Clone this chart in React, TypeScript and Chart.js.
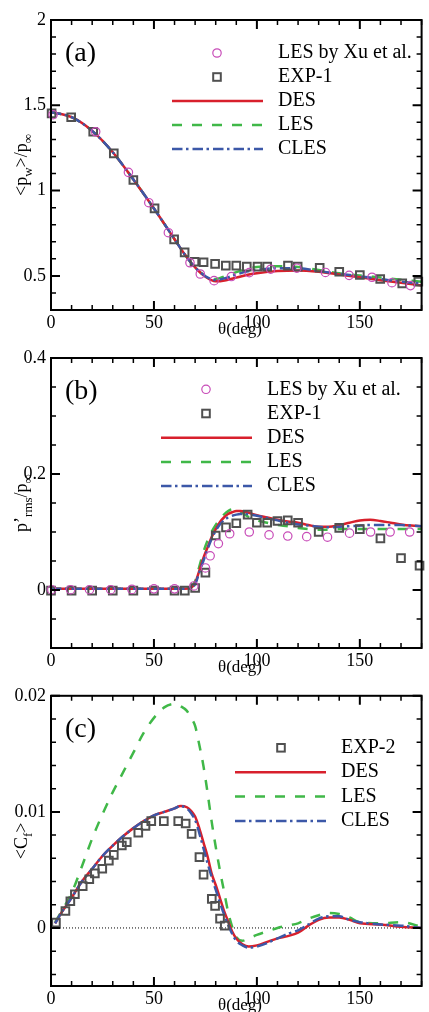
import { useEffect, useRef } from "react";
import { Chart, registerables } from "chart.js";

Chart.register(...registerables);

const FONT = '"Liberation Serif", "Times New Roman", serif';

// ---------- shared axis ticks ----------
const xTicks = [0, 50, 100, 150];
const xTickLabels = ["0", "50", "100", "150"];

// ---------- (a) mean wall pressure ----------
const yTicksA = [0.5, 1, 1.5, 2];
const yTickLabelsA = ["0.5", "1", "1.5", "2"];

const thetaA = [0, 10, 20, 30, 40, 50, 60, 65, 70, 75, 80, 85, 90, 95, 100, 110, 120, 130, 140, 150, 160, 170, 180];
const pwDES = [1.46, 1.43, 1.35, 1.225, 1.065, 0.895, 0.715, 0.625, 0.55, 0.495, 0.468, 0.475, 0.49, 0.505, 0.515, 0.528, 0.532, 0.524, 0.508, 0.492, 0.475, 0.46, 0.443];
const pwLES = [1.46, 1.43, 1.35, 1.225, 1.065, 0.895, 0.715, 0.625, 0.55, 0.5, 0.482, 0.5, 0.522, 0.54, 0.552, 0.556, 0.552, 0.535, 0.515, 0.503, 0.49, 0.477, 0.466];
const pwCLES = [1.46, 1.43, 1.35, 1.225, 1.065, 0.895, 0.715, 0.625, 0.55, 0.498, 0.476, 0.488, 0.508, 0.525, 0.535, 0.545, 0.545, 0.528, 0.512, 0.498, 0.482, 0.466, 0.455];

const xuThetaA = [1, 21.7, 37.6, 47.5, 57, 67.5, 72.5, 79.2, 87.6, 96.3, 106.7, 119.4, 133.3, 144.8, 155.9, 165.6, 174.6];
const xuPw = [1.445, 1.345, 1.107, 0.929, 0.753, 0.577, 0.511, 0.472, 0.496, 0.519, 0.539, 0.545, 0.52, 0.503, 0.492, 0.46, 0.443];

const exp1ThetaA = [0.3, 9.8, 20.5, 30.5, 40, 50.3, 59.8, 64.9, 69.7, 74.1, 79.7, 84.9, 90, 95.1, 100.3, 105, 115.1, 119.8, 130.5, 140, 150, 159.9, 170.6, 178.4];
const exp1Pw = [1.453, 1.43, 1.345, 1.218, 1.062, 0.896, 0.714, 0.638, 0.583, 0.58, 0.57, 0.56, 0.56, 0.554, 0.554, 0.554, 0.56, 0.554, 0.548, 0.524, 0.505, 0.482, 0.456, 0.466];

// ---------- (b) rms wall pressure ----------
const yTicksB = [0, 0.2, 0.4];
const yTickLabelsB = ["0", "0.2", "0.4"];

const thetaB = [0, 10, 20, 30, 40, 50, 60, 65, 68, 70, 72, 74, 76, 78, 80, 82, 84, 86, 88, 90, 92, 95, 100, 105, 110, 115, 120, 125, 130, 135, 140, 145, 150, 155, 160, 165, 170, 175, 180];
const prmsDES = [0.002, 0.002, 0.002, 0.002, 0.002, 0.002, 0.002, 0.002, 0.004, 0.012, 0.033, 0.055, 0.073, 0.091, 0.105, 0.117, 0.125, 0.131, 0.134, 0.136, 0.136, 0.134, 0.129, 0.125, 0.121, 0.118, 0.116, 0.112, 0.109, 0.109, 0.112, 0.116, 0.12, 0.121, 0.119, 0.116, 0.113, 0.111, 0.11];
const prmsLES = [0.002, 0.002, 0.002, 0.002, 0.002, 0.002, 0.002, 0.002, 0.005, 0.015, 0.04, 0.065, 0.085, 0.1, 0.112, 0.122, 0.13, 0.136, 0.139, 0.139, 0.135, 0.128, 0.12, 0.116, 0.112, 0.11, 0.107, 0.105, 0.104, 0.104, 0.105, 0.105, 0.105, 0.105, 0.105, 0.105, 0.105, 0.105, 0.105];
const prmsCLES = [0.002, 0.002, 0.002, 0.002, 0.002, 0.002, 0.002, 0.002, 0.004, 0.01, 0.03, 0.05, 0.07, 0.088, 0.102, 0.113, 0.12, 0.125, 0.128, 0.13, 0.131, 0.131, 0.128, 0.124, 0.12, 0.116, 0.113, 0.111, 0.109, 0.108, 0.109, 0.11, 0.111, 0.112, 0.112, 0.112, 0.112, 0.111, 0.11];

const xuThetaB = [0.3, 9.5, 18.7, 29, 39.3, 50, 60, 69.4, 75, 77.3, 81.3, 86.8, 96.3, 105.9, 115, 124.2, 134.3, 145, 155.2, 164.7, 174.2];
const xuPrms = [0.0005, 0.0005, 0.0005, 0.0005, 0.001, 0.002, 0.002, 0.007, 0.038, 0.059, 0.08, 0.097, 0.1, 0.095, 0.093, 0.092, 0.091, 0.098, 0.1, 0.1, 0.1];

const exp1ThetaB = [0, 10, 20, 30, 40, 50, 60, 65, 70, 75, 80, 85, 90, 95.5, 100, 105, 110, 115, 120, 130, 140, 150, 160, 170, 179];
const exp1Prms = [-0.001, -0.001, -0.001, -0.001, -0.001, -0.001, -0.001, -0.001, 0.0035, 0.03, 0.094, 0.108, 0.115, 0.13, 0.116, 0.116, 0.119, 0.12, 0.116, 0.1, 0.107, 0.105, 0.089, 0.055, 0.042];

// ---------- (c) mean skin friction ----------
const yTicksC = [0, 0.01, 0.02];
const yTickLabelsC = ["0", "0.01", "0.02"];

const thetaC = [2, 5, 10, 15, 20, 25, 30, 35, 40, 45, 50, 55, 60, 63, 66, 68, 70, 72, 74, 76, 78, 80, 82, 84, 86, 88, 90, 93, 96, 100, 105, 110, 115, 120, 125, 130, 135, 140, 145, 150, 160, 170, 180];
const cfDES = [0.0004, 0.0013, 0.0026, 0.004, 0.0051, 0.0062, 0.0071, 0.0079, 0.0086, 0.0092, 0.0097, 0.01, 0.0103, 0.0105, 0.0104, 0.0101, 0.0096, 0.0086, 0.0074, 0.0062, 0.0047, 0.0037, 0.0026, 0.0015, 0.0006, -0.0003, -0.0009, -0.0014, -0.0016, -0.0015, -0.0012, -0.0009, -0.0007, -0.0004, 0.0002, 0.0007, 0.0009, 0.0009, 0.0007, 0.0004, 0.0003, 0.0001, 0];
const cfLES = [0.0005, 0.0014, 0.003, 0.0053, 0.0077, 0.0098, 0.0117, 0.0134, 0.0151, 0.0168, 0.0181, 0.019, 0.0193, 0.0191, 0.0187, 0.0181, 0.0174, 0.0158, 0.014, 0.0117, 0.0092, 0.007, 0.005, 0.0032, 0.0014, 0.0001, -0.0008, -0.0011, -0.0009, -0.0006, -0.0003, 0, 0.0002, 0.0004, 0.0008, 0.0011, 0.0013, 0.0012, 0.0009, 0.0005, 0.0004, 0.0005, 0.0001];
const cfCLES = [0.0004, 0.0013, 0.0026, 0.004, 0.0051, 0.0062, 0.0071, 0.0079, 0.0086, 0.0092, 0.0097, 0.01, 0.0103, 0.0105, 0.0103, 0.0099, 0.0093, 0.0082, 0.0069, 0.0056, 0.0044, 0.0033, 0.0022, 0.0012, 0.0003, -0.0005, -0.0011, -0.0015, -0.0017, -0.0016, -0.0013, -0.0009, -0.0005, -0.0002, 0.0003, 0.0008, 0.001, 0.001, 0.0007, 0.0005, 0.0003, 0.0002, 0];

const exp2ThetaC = [2.4, 7, 9.4, 11.6, 15.4, 18.6, 21.3, 24.9, 28.1, 30.5, 34.4, 36.8, 42.4, 45.9, 48.7, 54.8, 61.8, 65.4, 68.3, 72.1, 74.1, 78.1, 79.7, 82.1, 84.4];
const exp2Cf = [0.00046, 0.00146, 0.0023, 0.0029, 0.0036, 0.0042, 0.0047, 0.0051, 0.0058, 0.0063, 0.0071, 0.0074, 0.0082, 0.0088, 0.0092, 0.0092, 0.0092, 0.009, 0.0081, 0.0061, 0.0046, 0.0025, 0.0019, 0.0008, 0.0002];

// ---------- styles ----------
const RED = "#d8202c";
const GREEN = "#40b848";
const BLUE = "#3c58a8";
const MAGENTA = "#c84cb8";
const GREY = "#505050";
const DASH_LES = [10, 10];
const DASH_CLES = [10.5, 3.5, 2.5, 4];

type Seg = { t: string; sub?: boolean };
type LegendItem = { kind: "circle" | "square" | "line"; text: string; color?: string; dash?: number[] };

interface Panel {
  top: number;
  height: number;
  padTop: number;
  xAxisH: number;
  yMin: number;
  yMax: number;
  yTicks: number[];
  yTickLabels: string[];
  yMinorFrom: number;
  yMinorStep: number;
  tag: string;
  yTitle: Seg[];
  legend: LegendItem[];
  legMarker: number;
  legLine: [number, number];
  legText: number;
  legRow0: number;
  legDy: number;
  zeroLine: boolean;
  datasets: any[];
}

const pts = (xs: number[], ys: number[]) => xs.map((x, i) => ({ x, y: ys[i] }));

const lineSet = (label: string, xs: number[], ys: number[], color: string, dash: number[]) => ({
  label,
  data: pts(xs, ys),
  borderColor: color,
  borderWidth: 2.5,
  borderDash: dash,
  pointRadius: 0,
  fill: false,
  cubicInterpolationMode: "monotone",
});

const circleSet = (label: string, xs: number[], ys: number[]) => ({
  label,
  data: pts(xs, ys),
  showLine: false,
  pointStyle: "circle",
  pointRadius: 4.2,
  pointBorderWidth: 1.2,
  pointBorderColor: MAGENTA,
  pointBackgroundColor: "rgba(0,0,0,0)",
  clip: false,
});

const squareSet = (label: string, xs: number[], ys: number[]) => ({
  label,
  data: pts(xs, ys),
  showLine: false,
  pointStyle: "rect",
  pointRadius: 5.4,
  pointBorderWidth: 2,
  pointBorderColor: GREY,
  pointBackgroundColor: "rgba(0,0,0,0)",
  clip: false,
});

const legendFull: LegendItem[] = [
  { kind: "circle", text: "LES by Xu et al." },
  { kind: "square", text: "EXP-1" },
  { kind: "line", text: "DES", color: RED, dash: [] },
  { kind: "line", text: "LES", color: GREEN, dash: DASH_LES },
  { kind: "line", text: "CLES", color: BLUE, dash: DASH_CLES },
];

const panels: Panel[] = [
  {
    top: 0, height: 340, padTop: 20, xAxisH: 30,
    yMin: 0.3, yMax: 2, yTicks: yTicksA, yTickLabels: yTickLabelsA, yMinorFrom: 0.4, yMinorStep: 0.1,
    tag: "(a)",
    yTitle: [{ t: "<p" }, { t: "w", sub: true }, { t: ">/p" }, { t: "\u221e", sub: true }],
    legend: legendFull, legMarker: 166, legLine: [121, 212], legText: 227, legRow0: 33, legDy: 24,
    zeroLine: false,
    datasets: [
      circleSet("LES by Xu et al.", xuThetaA, xuPw),
      squareSet("EXP-1", exp1ThetaA, exp1Pw),
      lineSet("CLES", thetaA, pwCLES, BLUE, DASH_CLES),
      lineSet("DES", thetaA, pwDES, RED, []),
      lineSet("LES", thetaA, pwLES, GREEN, DASH_LES),
    ],
  },
  {
    top: 340, height: 340, padTop: 18, xAxisH: 32,
    yMin: -0.1, yMax: 0.4, yTicks: yTicksB, yTickLabels: yTickLabelsB, yMinorFrom: -0.05, yMinorStep: 0.05,
    tag: "(b)",
    yTitle: [{ t: "p\u2019" }, { t: "rms", sub: true }, { t: "/p" }, { t: "\u221e", sub: true }],
    legend: legendFull, legMarker: 155, legLine: [110, 201], legText: 216, legRow0: 31.3, legDy: 24.2,
    zeroLine: false,
    datasets: [
      circleSet("LES by Xu et al.", xuThetaB, xuPrms),
      squareSet("EXP-1", exp1ThetaB, exp1Prms),
      lineSet("CLES", thetaB, prmsCLES, BLUE, DASH_CLES),
      lineSet("DES", thetaB, prmsDES, RED, []),
      lineSet("LES", thetaB, prmsLES, GREEN, DASH_LES),
    ],
  },
  {
    top: 680, height: 332, padTop: 14, xAxisH: 26,
    yMin: -0.005, yMax: 0.02, yTicks: yTicksC, yTickLabels: yTickLabelsC, yMinorFrom: -0.004, yMinorStep: 0.002,
    tag: "(c)",
    yTitle: [{ t: "<C" }, { t: "f", sub: true }, { t: ">" }],
    legend: [
      { kind: "square", text: "EXP-2" },
      { kind: "line", text: "DES", color: RED, dash: [] },
      { kind: "line", text: "LES", color: GREEN, dash: DASH_LES },
      { kind: "line", text: "CLES", color: BLUE, dash: DASH_CLES },
    ],
    legMarker: 230, legLine: [184, 275], legText: 290, legRow0: 52, legDy: 24.4,
    zeroLine: true,
    datasets: [
      squareSet("EXP-2", exp2ThetaC, exp2Cf),
      lineSet("CLES", thetaC, cfCLES, BLUE, DASH_CLES),
      lineSet("DES", thetaC, cfDES, RED, []),
      lineSet("LES", thetaC, cfLES, GREEN, DASH_LES),
    ],
  },
];

function drawRotatedTitle(ctx: CanvasRenderingContext2D, segs: Seg[], bx: number, cy: number, size: number) {
  const big = `${size}px ${FONT}`;
  const small = `${Math.round(size * 0.7)}px ${FONT}`;
  const widths = segs.map((s) => {
    ctx.font = s.sub ? small : big;
    return ctx.measureText(s.t).width;
  });
  const total = widths.reduce((a, b) => a + b, 0);
  ctx.save();
  ctx.translate(bx, cy);
  ctx.rotate(-Math.PI / 2);
  ctx.textAlign = "left";
  ctx.textBaseline = "alphabetic";
  ctx.fillStyle = "#000";
  let x = -total / 2;
  segs.forEach((s, i) => {
    ctx.font = s.sub ? small : big;
    ctx.fillText(s.t, x, s.sub ? size * 0.28 : 0);
    x += widths[i];
  });
  ctx.restore();
}

function decoPlugin(p: Panel) {
  return {
    id: "frameDeco",
    beforeDatasetsDraw(chart: any) {
      if (!p.zeroLine) return;
      const { ctx, chartArea: a, scales } = chart;
      const y0 = scales.y.getPixelForValue(0);
      ctx.save();
      ctx.strokeStyle = "#000";
      ctx.lineWidth = 1;
      ctx.setLineDash([1, 2]);
      ctx.beginPath();
      ctx.moveTo(a.left, y0);
      ctx.lineTo(a.right, y0);
      ctx.stroke();
      ctx.restore();
    },
    afterDatasetsDraw(chart: any) {
      const { ctx, chartArea: a, scales } = chart;
      const xs = scales.x;
      const ys = scales.y;
      ctx.save();
      ctx.strokeStyle = "#000";
      ctx.setLineDash([]);

      // inward tick marks on all four sides
      const nx = 18;
      for (let i = 0; i <= nx; i++) {
        const v = i * 10;
        const major = xTicks.includes(v);
        const px = xs.getPixelForValue(v);
        const len = major ? 9 : 5;
        ctx.lineWidth = major ? 2 : 1.5;
        ctx.beginPath();
        ctx.moveTo(px, a.bottom);
        ctx.lineTo(px, a.bottom - len);
        ctx.moveTo(px, a.top);
        ctx.lineTo(px, a.top + len);
        ctx.stroke();
      }
      const ny = Math.round((p.yMax - p.yMinorFrom) / p.yMinorStep);
      for (let i = 0; i <= ny; i++) {
        const v = p.yMinorFrom + i * p.yMinorStep;
        const major = p.yTicks.some((m) => Math.abs(m - v) < p.yMinorStep * 1e-3);
        const py = ys.getPixelForValue(v);
        const len = major ? 9 : 5;
        ctx.lineWidth = major ? 2 : 1.5;
        ctx.beginPath();
        ctx.moveTo(a.left, py);
        ctx.lineTo(a.left + len, py);
        ctx.moveTo(a.right, py);
        ctx.lineTo(a.right - len, py);
        ctx.stroke();
      }

      // frame
      ctx.lineWidth = 2;
      ctx.strokeRect(a.left, a.top, a.right - a.left, a.bottom - a.top);

      // panel tag
      ctx.fillStyle = "#000";
      ctx.font = `28px ${FONT}`;
      ctx.textAlign = "left";
      ctx.textBaseline = "middle";
      ctx.fillText(p.tag, a.left + 14, a.top + 34);

      // legend
      p.legend.forEach((it, i) => {
        const ry = a.top + p.legRow0 + i * p.legDy;
        const mx = a.left + p.legMarker;
        if (it.kind === "circle") {
          ctx.strokeStyle = MAGENTA;
          ctx.lineWidth = 1.2;
          ctx.setLineDash([]);
          ctx.beginPath();
          ctx.arc(mx, ry, 4.2, 0, Math.PI * 2);
          ctx.stroke();
        } else if (it.kind === "square") {
          ctx.strokeStyle = GREY;
          ctx.lineWidth = 2;
          ctx.setLineDash([]);
          ctx.strokeRect(mx - 3.8, ry - 3.8, 7.6, 7.6);
        } else {
          ctx.strokeStyle = it.color!;
          ctx.lineWidth = 2.5;
          ctx.setLineDash(it.dash || []);
          ctx.beginPath();
          ctx.moveTo(a.left + p.legLine[0], ry);
          ctx.lineTo(a.left + p.legLine[1], ry);
          ctx.stroke();
          ctx.setLineDash([]);
        }
        ctx.fillStyle = "#000";
        ctx.font = `20px ${FONT}`;
        ctx.textAlign = "left";
        ctx.textBaseline = "middle";
        ctx.fillText(it.text, a.left + p.legText, ry);
      });

      // axis titles
      ctx.font = `17px ${FONT}`;
      ctx.textAlign = "center";
      ctx.textBaseline = "middle";
      ctx.fillText("\u03b8(deg)", a.left + 189, a.bottom + 20);
      drawRotatedTitle(ctx, p.yTitle, 27, (a.top + a.bottom) / 2, 18);

      ctx.restore();
    },
  };
}

function buildChart(canvas: HTMLCanvasElement, p: Panel) {
  return new Chart(canvas, {
    type: "line",
    data: { datasets: p.datasets },
    options: {
      responsive: false,
      animation: false,
      devicePixelRatio: 1,
      events: [],
      layout: { padding: { top: p.padTop, right: 1, left: 0, bottom: 0 } },
      plugins: { legend: { display: false }, tooltip: { enabled: false } },
      scales: {
        x: {
          type: "linear",
          min: 0,
          max: 180,
          grid: { display: false, drawTicks: false },
          border: { display: false },
          ticks: {
            font: { family: FONT, size: 18 },
            color: "#000",
            padding: 2,
            maxRotation: 0,
            autoSkip: false,
            callback: (_v: any, i: number) => xTickLabels[i],
          },
          afterBuildTicks: (s: any) => {
            s.ticks = xTicks.map((v) => ({ value: v }));
          },
          afterFit: (s: any) => {
            s.height = p.xAxisH;
          },
        },
        y: {
          type: "linear",
          min: p.yMin,
          max: p.yMax,
          grid: { display: false, drawTicks: false },
          border: { display: false },
          ticks: {
            font: { family: FONT, size: 18 },
            color: "#000",
            padding: 5,
            autoSkip: false,
            callback: (_v: any, i: number) => p.yTickLabels[i],
          },
          afterBuildTicks: (s: any) => {
            s.ticks = p.yTicks.map((v) => ({ value: v }));
          },
          afterFit: (s: any) => {
            s.width = 51;
          },
        },
      },
    } as any,
    plugins: [decoPlugin(p)],
  });
}

export default function App() {
  const refs = [useRef<HTMLCanvasElement>(null), useRef<HTMLCanvasElement>(null), useRef<HTMLCanvasElement>(null)];

  useEffect(() => {
    const charts = panels.map((p, i) => buildChart(refs[i].current!, p));
    return () => charts.forEach((c) => c.destroy());
  }, []);

  return (
    <div style={{ position: "absolute", left: 0, top: 0, width: 429, height: 1012, background: "#fff", overflow: "hidden" }}>
      {panels.map((p, i) => (
        <canvas
          key={p.tag}
          ref={refs[i]}
          width={429}
          height={p.height}
          style={{ position: "absolute", left: 0, top: p.top, width: 429, height: p.height, display: "block" }}
        />
      ))}
    </div>
  );
}
